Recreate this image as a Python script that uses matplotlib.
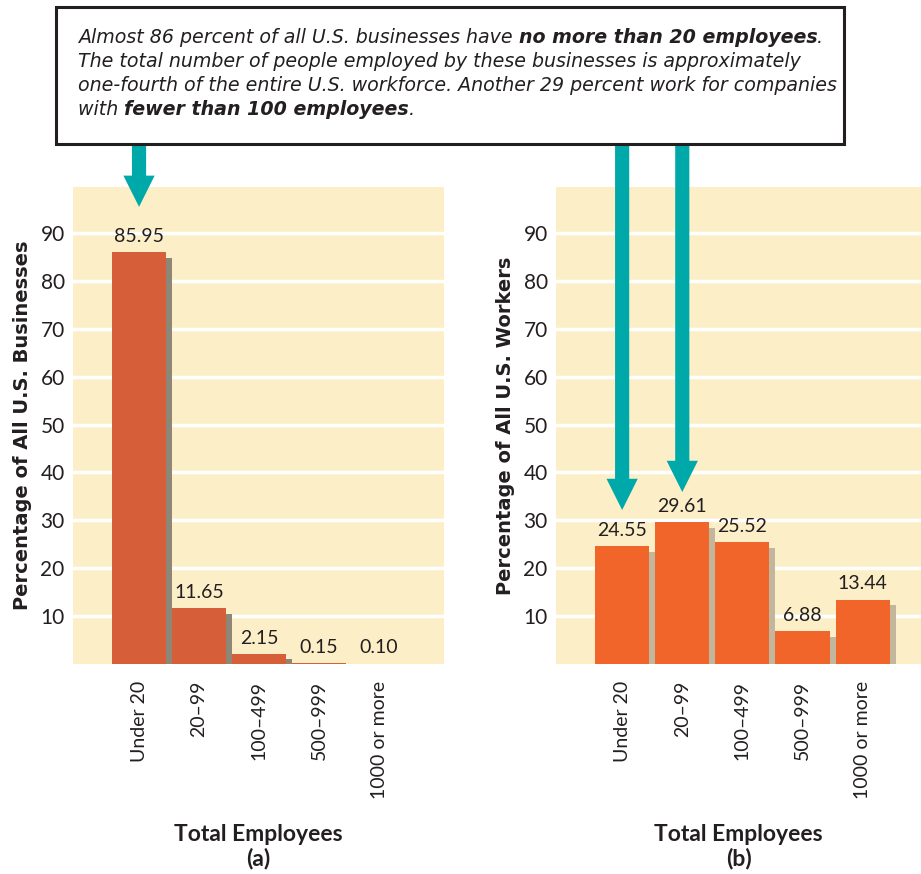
import matplotlib
matplotlib.use("Agg")
import matplotlib.pyplot as plt
from matplotlib.patches import Rectangle

plt.rcParams['font.family'] = ['Lato', 'DejaVu Sans']

categories = ["Under 20", "20\u201399", "100\u2013499", "500\u2013999", "1000 or more"]
businesses = [85.95, 11.65, 2.15, 0.15, 0.10]
workers = [24.55, 29.61, 25.52, 6.88, 13.44]
yticks = [10, 20, 30, 40, 50, 60, 70, 80, 90]

W, H = 921, 874
fig = plt.figure(figsize=(W / 100, H / 100), dpi=100)

bg = "#FCEFC8"
teal = "#00A9A9"
ink = "#231F20"


def px_axes(x0, y0, x1, y1):
    return fig.add_axes([x0 / W, 1 - y1 / H, (x1 - x0) / W, (y1 - y0) / H])


def draw_panel(ax, values, color, shadow, ylabel, letter, xmax):
    ax.set_facecolor(bg)
    for s in ax.spines.values():
        s.set_visible(False)
    ax.set_xlim(-1.1, xmax)
    ax.set_ylim(0, 99.6)
    ax.set_yticks(yticks)
    ax.set_yticklabels([str(t) for t in yticks], fontsize=15, color=ink)
    ax.grid(axis="y", color="white", linewidth=2.5, zorder=0)
    ax.set_axisbelow(True)
    ax.tick_params(length=0, pad=6)
    x = list(range(len(values)))
    # drop shadow behind each bar
    for i, v in zip(x, values):
        if v > 1.2:
            ax.add_patch(Rectangle((i - 0.45 + 0.1, 0), 0.9, v - 1.2,
                                   facecolor=shadow, edgecolor="none", zorder=2))
    ax.bar(x, values, width=0.9, color=color, zorder=3)
    for i, v in zip(x, values):
        ax.text(i, v + 1.5, f"{v:.2f}", ha="center", va="bottom",
                fontsize=14, color=ink, zorder=4)
    ax.set_xticks(x)
    ax.set_xticklabels(categories, rotation=90, fontsize=14, color=ink,
                       va="top")
    ax.tick_params(axis="x", pad=12)
    ax.set_ylabel(ylabel, fontsize=14, fontweight="bold", color=ink,
                  labelpad=6, family=["DejaVu Sans"])
    ax.set_xlabel("Total Employees\n(" + letter + ")", fontsize=16.5,
                  fontweight="bold", color=ink, labelpad=18,
                  linespacing=1.15)


ax1 = px_axes(73, 187, 444, 664)
ax2 = px_axes(556, 187, 921, 664)
draw_panel(ax1, businesses, "#D65F3A", "#8E8676",
           "Percentage of All U.S. Businesses", "a", 5.08)
draw_panel(ax2, workers, "#F2652A", "#C2B69D",
           "Percentage of All U.S. Workers", "b", 4.97)

# arrows from the callout box down to the bars
box_bottom = 144
style = "simple,head_length=1.5,head_width=1.5,tail_width=0.68"
for ax, i, tip in [(ax1, 0, businesses[0] + 9.5),
                   (ax2, 0, workers[0] + 7.6),
                   (ax2, 1, workers[1] + 6.3)]:
    ax.annotate("", xy=(i, tip), xycoords="data",
                xytext=(ax.transData.transform((i, 0))[0], H - box_bottom),
                textcoords="figure pixels",
                arrowprops=dict(arrowstyle=style, color=teal, lw=0,
                                mutation_scale=15, shrinkA=0, shrinkB=0),
                annotation_clip=False, zorder=10)

# callout box
over = fig.add_axes([0, 0, 1, 1], facecolor="none")
over.set_xlim(0, W)
over.set_ylim(H, 0)
over.axis("off")
over.add_patch(Rectangle((56, 7), 788, 137, facecolor="white",
                         edgecolor=ink, linewidth=2.2, zorder=5))

lines = [
    [("Almost 86 percent of all U.S. businesses have ", "normal"),
     ("no more than 20 employees", "bold"), (".", "normal")],
    [("The total number of people employed by these businesses is approximately", "normal")],
    [("one-fourth of the entire U.S. workforce. Another 29 percent work for companies", "normal")],
    [("with ", "normal"), ("fewer than 100 employees", "bold"), (".", "normal")],
]
baselines = [43, 67, 91, 115]
fig.canvas.draw()
renderer = fig.canvas.get_renderer()
for segs, yb in zip(lines, baselines):
    xpos = 78
    for txt, wt in segs:
        t = over.text(xpos, yb, txt, fontsize=13.7, style="italic", fontweight=wt,
                      color=ink, va="baseline", ha="left", zorder=6,
                      family=["DejaVu Sans"])
        bb = t.get_window_extent(renderer)
        xpos += bb.width

fig.savefig("out.png", dpi=100)
